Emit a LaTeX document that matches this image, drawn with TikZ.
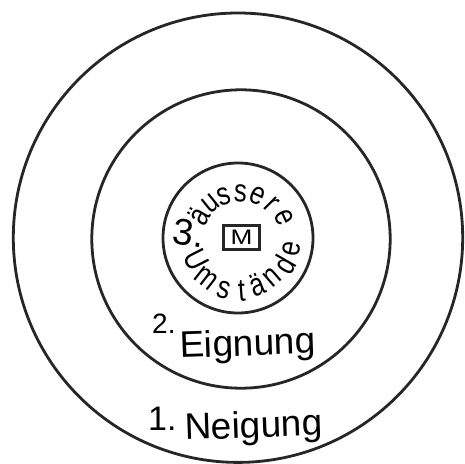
\documentclass[tikz,border=0pt]{standalone}
\usepackage{fontspec}
\setmainfont{Liberation Sans}
\begin{document}
\begin{tikzpicture}[x=1pt,y=1pt,
  ring/.style={draw=black!85, line width=2.8pt},
  big/.style={font=\fontsize{37}{37}\selectfont, inner sep=0pt, anchor=base west},
  small/.style={font=\fontsize{28}{28}\selectfont, inner sep=0pt, anchor=base west},
  letter/.style={font=\fontsize{32}{32}\selectfont, inner sep=0pt}]
\useasboundingbox (-238,-225) rectangle (227,238);
% circles
\draw[ring] (0,0.3) circle (224.7);
\draw[ring] (3,-1) circle (149.2);
\draw[ring] (0,0) circle (75);
% central box
\node[draw=black!85, line width=3pt, minimum width=36pt, minimum height=24pt, inner sep=0pt,
      font=\fontsize{21}{21}\selectfont] (mbox) at (3.5,0.5) {\scalebox{1.25}[1]{M}};
% 3. aussere Umstaende
\node[letter, font=\fontsize{37}{37}\selectfont, rotate=-8] (three) at (-49,5) {3.};
\foreach \ch/\ang/\rad [count=\i] in {ä/150/45, u/129/44, s/108/44, s/87/45, e/65/46, r/45/48, e/24/50}
  \node[letter, rotate=\ang-90] (top\i) at (\ang:\rad) {\scalebox{0.8}[1]{\ch}};
\foreach \ch/\ang/\rad [count=\i] in {U/207/47, m/232/51, s/255/54, t/274/53, ä/292/51, n/311/52, d/330/53, e/349/55}
  \node[letter, rotate=\ang+90] (bot\i) at (\ang:\rad) {\scalebox{0.8}[1]{\ch}};
% 2. Eignung
\node[small] (two) at (-86,-95) {2.};
\node[big, rotate=2] (eignung) at (-58,-120) {Eignung};
% 1. Neigung
\node[big, font=\fontsize{34}{34}\selectfont] (one) at (-90,-192) {1.};
\node[big, rotate=2] (neigung) at (-53,-202) {Neigung};
\end{tikzpicture}
\end{document}
